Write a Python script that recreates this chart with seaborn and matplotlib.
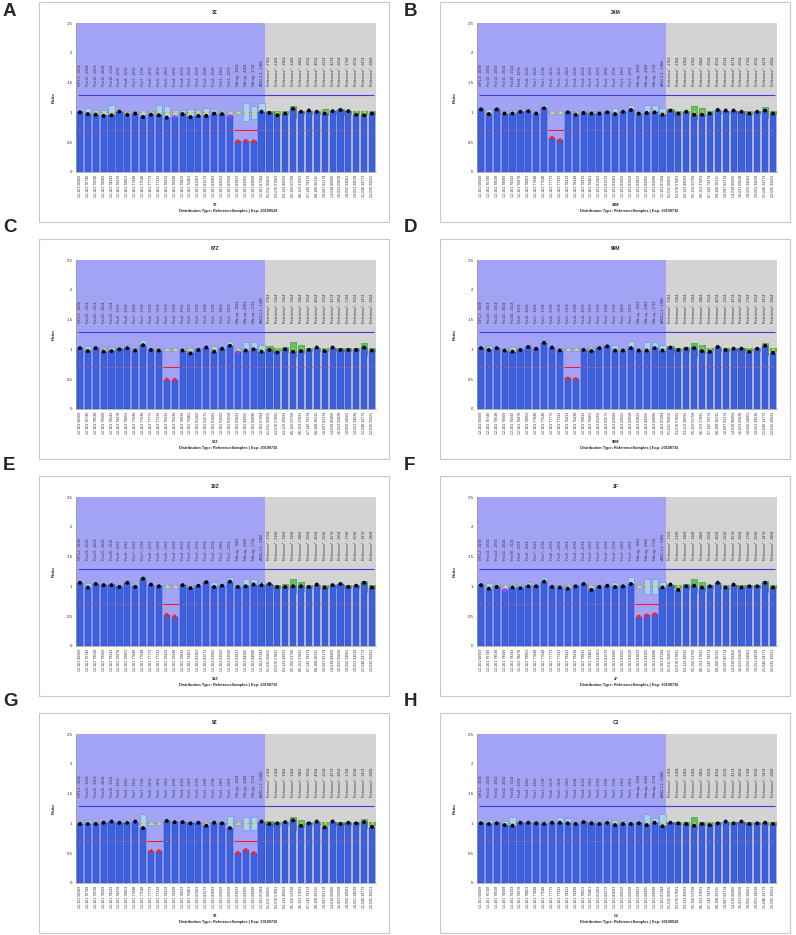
import matplotlib
matplotlib.use('Agg')
import matplotlib.pyplot as plt
from matplotlib.patches import Rectangle
import seaborn as sns
import pandas as pd
import numpy as np

W, H = 796, 935

# probe names printed in the upper part of every panel
top_labels = ["GP1-2 - 3104", "Pax13 - 2824", "Pax12 - 2654", "Pax11 - 2624", "Pax10 - 2114",
              "Pax9 - 1974", "Pax8 - 1914", "Pax7 - 1824", "Pax7 - 1794", "Pax6 - 2274",
              "Pax5 - 2434", "Pax5 - 2364", "Pax4 - 2884", "Pax4 - 4064", "Pax3 - 2964",
              "Pax3 - 2074", "Pax2 - 1894", "Pax2 - 2794", "Pax1 - 1864", "Pax1 - 2254",
              "Nfe-ug - 1564", "Nfe-ug - 4184", "Nfe-ug - 1714", "ABCL1-2 - 1484",
              "Reference* - 2764", "Reference* - 2184", "Reference* - 1964", "Reference* - 1384",
              "Reference* - 3864", "Reference* - 3554", "Reference* - 4054", "Reference* - 2234",
              "Reference* - 4274", "Reference* - 2654", "Reference* - 1784", "Reference* - 3034",
              "Reference* - 3474", "Reference* - 2884"]

# chromosome positions under the x axis
bottom_labels = ["12-161 56569", "12-161 76749", "12-161 78538", "12-161 78569", "12-161 78243",
                 "12-161 78478", "12-161 78853", "12-161 77848", "12-161 77548", "12-161 77773",
                 "12-161 77333", "12-161 78413", "12-161 78438", "12-161 78833", "12-161 79461",
                 "12-161 81263", "12-161 81573", "12-161 83083", "12-161 83502", "12-161 83558",
                 "12-161 83823", "12-161 84355", "12-161 84998", "12-161 87284",
                 "01-011 95815", "03-076 57681", "03-123 49593", "05-150 53758", "06-153 37691",
                 "07-142 79374", "08-108 26311", "10-087 82174", "14-018 89450", "16-023 05628",
                 "18-050 34561", "19-051 34539", "21-046 34773", "22-035 35021"]

n_target = 24  # first 24 probes are target probes, the rest reference probes

# ratio per probe and half height of the reference box (box = 1 +- spread)
ratio_a = [1.00, 0.97, 0.96, 0.94, 0.95, 1.01, 0.96, 0.98, 0.92, 0.96, 0.95, 0.91, 0.92, 0.97, 0.92, 0.94, 0.94, 0.98, 0.97, 0.93, 0.51, 0.52, 0.51, 1.01,
           0.99, 0.95, 0.98, 1.06, 1.01, 1.03, 1.01, 0.98, 1.02, 1.04, 1.02, 0.96, 0.95, 0.98]
spread_a = [0.02, 0.07, 0.04, 0.04, 0.12, 0.03, 0.03, 0.03, 0.04, 0.03, 0.12, 0.11, 0.04, 0.04, 0.06, 0.04, 0.08, 0.06, 0.03, 0.02, 0.02, 0.15, 0.11, 0.15,
            0.02, 0.03, 0.02, 0.10, 0.02, 0.02, 0.02, 0.05, 0.02, 0.05, 0.02, 0.02, 0.03, 0.02]

ratio_b = [1.05, 0.97, 1.05, 0.98, 0.98, 1.01, 1.02, 0.98, 1.07, 0.57, 0.53, 1.00, 0.96, 0.99, 0.98, 0.98, 1.00, 0.97, 1.01, 1.04, 0.98, 0.99, 1.00, 0.96,
           1.03, 0.98, 1.01, 0.96, 0.96, 0.98, 1.04, 1.03, 1.03, 1.01, 0.98, 1.01, 1.03, 0.98]
spread_b = [0.02, 0.06, 0.02, 0.03, 0.04, 0.03, 0.08, 0.03, 0.14, 0.02, 0.02, 0.02, 0.02, 0.02, 0.02, 0.02, 0.02, 0.07, 0.03, 0.13, 0.03, 0.12, 0.12, 0.07,
            0.06, 0.02, 0.03, 0.11, 0.07, 0.02, 0.02, 0.02, 0.02, 0.02, 0.02, 0.02, 0.09, 0.03]

ratio_c = [1.02, 0.97, 1.02, 0.96, 0.97, 1.00, 1.02, 0.98, 1.07, 0.99, 0.98, 0.49, 0.49, 0.98, 0.93, 0.99, 1.03, 0.96, 1.01, 1.06, 0.95, 0.98, 1.00, 0.96,
           0.99, 0.95, 1.00, 0.96, 0.97, 0.99, 1.03, 0.97, 1.03, 0.99, 0.99, 0.99, 1.03, 0.98]
spread_c = [0.02, 0.06, 0.02, 0.03, 0.04, 0.02, 0.08, 0.02, 0.15, 0.02, 0.02, 0.02, 0.02, 0.02, 0.02, 0.02, 0.02, 0.06, 0.02, 0.14, 0.02, 0.13, 0.13, 0.07,
            0.05, 0.02, 0.04, 0.13, 0.07, 0.02, 0.02, 0.03, 0.02, 0.02, 0.02, 0.02, 0.10, 0.02]

ratio_d = [1.02, 0.99, 1.02, 0.98, 0.96, 0.99, 1.04, 1.01, 1.11, 1.03, 0.98, 0.51, 0.50, 0.99, 0.97, 1.02, 1.05, 0.98, 0.98, 1.02, 0.98, 0.98, 1.02, 0.98,
           1.03, 0.99, 1.01, 1.02, 0.97, 0.96, 1.04, 0.99, 1.01, 1.01, 0.96, 1.01, 1.06, 0.94]
spread_d = [0.02, 0.06, 0.02, 0.02, 0.04, 0.02, 0.08, 0.02, 0.15, 0.02, 0.02, 0.02, 0.02, 0.02, 0.02, 0.02, 0.02, 0.07, 0.02, 0.14, 0.02, 0.13, 0.13, 0.07,
            0.06, 0.02, 0.04, 0.11, 0.07, 0.02, 0.02, 0.02, 0.02, 0.02, 0.02, 0.02, 0.10, 0.02]

ratio_e = [1.06, 0.98, 1.04, 1.02, 1.02, 0.99, 1.06, 0.99, 1.13, 1.03, 1.00, 0.52, 0.49, 1.02, 0.97, 1.01, 1.07, 0.99, 1.01, 1.08, 0.99, 1.00, 1.03, 1.02,
           1.04, 0.99, 0.99, 1.00, 1.00, 0.99, 1.03, 0.98, 1.02, 1.04, 0.99, 1.01, 1.06, 0.98]
spread_e = [0.02, 0.06, 0.02, 0.02, 0.04, 0.02, 0.09, 0.02, 0.16, 0.02, 0.02, 0.02, 0.02, 0.02, 0.03, 0.02, 0.02, 0.07, 0.02, 0.15, 0.02, 0.13, 0.13, 0.08,
            0.02, 0.02, 0.04, 0.12, 0.08, 0.02, 0.02, 0.02, 0.02, 0.02, 0.02, 0.02, 0.09, 0.02]

ratio_f = [1.02, 0.96, 0.99, 0.93, 0.98, 0.97, 1.00, 1.00, 1.08, 0.99, 0.98, 0.96, 1.00, 1.04, 0.94, 0.99, 1.01, 0.99, 1.00, 1.04, 0.49, 0.51, 0.53, 0.98,
           1.03, 0.94, 1.00, 1.01, 0.98, 1.00, 1.06, 0.98, 1.03, 0.98, 1.00, 1.00, 1.06, 0.98]
spread_f = [0.02, 0.06, 0.02, 0.02, 0.04, 0.02, 0.08, 0.02, 0.15, 0.02, 0.02, 0.02, 0.02, 0.02, 0.02, 0.02, 0.02, 0.07, 0.02, 0.15, 0.02, 0.13, 0.13, 0.08,
            0.02, 0.02, 0.04, 0.12, 0.08, 0.02, 0.02, 0.02, 0.02, 0.02, 0.02, 0.02, 0.09, 0.02]

ratio_g = [0.99, 0.99, 0.99, 1.01, 1.03, 1.01, 1.01, 1.03, 0.92, 0.53, 0.53, 1.04, 1.02, 1.02, 1.00, 1.01, 0.96, 1.01, 1.00, 0.92, 0.50, 0.55, 0.50, 1.03,
           0.99, 1.00, 1.02, 1.05, 0.96, 1.00, 1.03, 0.93, 1.03, 0.99, 1.01, 1.00, 1.02, 0.94]
spread_g = [0.02, 0.05, 0.02, 0.02, 0.02, 0.02, 0.08, 0.02, 0.15, 0.02, 0.02, 0.02, 0.02, 0.02, 0.02, 0.02, 0.03, 0.04, 0.02, 0.13, 0.02, 0.11, 0.11, 0.02,
            0.04, 0.02, 0.02, 0.11, 0.06, 0.02, 0.02, 0.02, 0.02, 0.02, 0.02, 0.02, 0.08, 0.02]

ratio_h = [1.00, 0.99, 1.00, 0.97, 0.96, 1.01, 1.01, 1.00, 0.99, 1.01, 1.01, 1.00, 0.99, 1.02, 1.00, 0.99, 1.01, 0.97, 0.99, 0.99, 1.00, 0.97, 1.01, 0.95,
           1.01, 1.00, 0.99, 0.96, 0.99, 0.97, 1.00, 1.03, 1.00, 1.03, 0.99, 1.00, 1.01, 0.99]
spread_h = [0.02, 0.06, 0.02, 0.04, 0.11, 0.02, 0.02, 0.04, 0.04, 0.02, 0.11, 0.09, 0.02, 0.04, 0.04, 0.02, 0.08, 0.06, 0.04, 0.02, 0.02, 0.15, 0.09, 0.15,
            0.02, 0.02, 0.02, 0.10, 0.02, 0.02, 0.02, 0.02, 0.02, 0.02, 0.02, 0.02, 0.02, 0.02]

# probes flagged with a violet dot, and stretches where the 0.7 line is solid
violet_dots = {"A": [12, 19], "C": [20], "F": [3]}
red_segments = {"A": [(19.5, 22.5)], "B": [(8.5, 10.5)], "C": [(10.5, 12.5)], "D": [(10.5, 12.5)],
                "E": [(10.5, 12.5)], "F": [(19.5, 22.5)], "G": [(8.5, 10.5), (19.5, 22.5)], "H": []}

panel_letters = ["A", "B", "C", "D", "E", "F", "G", "H"]
sample_names = ["3Z", "24M", "67Z", "99M", "10Z", "2F", "9Z", "C2"]
exp_dates = ["20190528", "20190716", "20190716", "20190716", "20190716", "20190716", "20190716", "20190528"]
all_ratios = [ratio_a, ratio_b, ratio_c, ratio_d, ratio_e, ratio_f, ratio_g, ratio_h]
all_spreads = [spread_a, spread_b, spread_c, spread_d, spread_e, spread_f, spread_g, spread_h]

sns.set_style('white')
plt.rcParams['font.family'] = ['Liberation Sans', 'DejaVu Sans']

fig = plt.figure(figsize=(W / 100, H / 100), dpi=100)


def px_axes(left, top, w, h):
    return fig.add_axes([left / W, 1 - (top + h) / H, w / W, h / H])


letter_y = [12, 228, 465, 702]  # vertical centre of the panel letters per row, pixels

for k, letter in enumerate(panel_letters):
    col, row = k % 2, k // 2
    x0 = 39 + 401 * col
    y0 = 2 + 237 * row
    ratios = np.array(all_ratios[k])
    spreads = np.array(all_spreads[k])
    n = len(ratios)
    x = np.arange(n)

    # panel frame and letter
    fig.add_artist(Rectangle((x0 / W, 1 - (y0 + 220) / H), 350 / W, 220 / H,
                             transform=fig.transFigure, fill=False,
                             edgecolor='#c8c8c8', linewidth=0.8))
    fig.text((x0 - 36) / W, 1 - letter_y[row] / H, letter, fontsize=13.5,
             fontweight='bold', ha='left', va='center')
    fig.text((x0 + 176) / W, 1 - (y0 + 10) / H, sample_names[k], fontsize=3.6,
             fontweight='bold', ha='center', va='center')
    fig.text((x0 + 176) / W, 1 - (y0 + 203) / H, sample_names[k], fontsize=2.8,
             fontweight='bold', ha='center', va='center')
    fig.text((x0 + 189) / W, 1 - (y0 + 209) / H,
             f"Distribution Type: ReferenceSamples | Exp: {exp_dates[k]}",
             fontsize=2.8, fontweight='bold', ha='center', va='center')

    ax = px_axes(x0 + 37, y0 + 21.3, 300, 148.4)

    # background regions: target probes blue, reference probes grey
    ax.axvspan(-0.5, n_target - 0.5, color='#a3a3f6', zorder=0, lw=0)
    ax.axvspan(n_target - 0.5, n - 0.5, color='#d3d3d3', zorder=0, lw=0)

    # reference boxes behind the bars
    box_fill = ['#a8d3f5' if i < n_target else '#5cc55c' for i in x]
    box_edge = ['#7090c0' if i < n_target else '#3b8f3b' for i in x]
    ax.bar(x, 2 * spreads, bottom=1 - spreads, width=0.78, color=box_fill,
           edgecolor=box_edge, linewidth=0.4, zorder=2)
    ax.hlines(np.ones(n), x - 0.39, x + 0.39, colors='#7a7a50', linewidth=0.4,
              linestyles=(0, (2, 1.5)), zorder=2.2)
    ax.scatter(x, np.ones(n), s=3, color='#f2e200', linewidths=0, zorder=2.4)

    df = pd.DataFrame({'probe': bottom_labels, 'ratio': ratios})
    sns.barplot(data=df, x='probe', y='ratio', order=bottom_labels, color='#3d61dc',
                saturation=1, width=0.78, edgecolor='#2c4cc0', linewidth=0.3,
                errorbar=None, ax=ax, zorder=3)

    # threshold lines
    ax.hlines(1.3, -0.2, n - 0.8, colors='#3c3ce0', linewidth=0.8, zorder=4)
    ax.hlines(0.7, -0.2, n - 0.8, colors='#e86060', linewidth=0.5,
              linestyles=(0, (3, 3)), zorder=4)
    for a, b in red_segments[letter]:
        ax.hlines(0.7, a, b, colors='#ff1a1a', linewidth=0.8, zorder=4.5)

    # sample dots
    kinds = []
    for i, r in enumerate(ratios):
        if r < 0.7:
            kinds.append('loss')
        elif i in violet_dots.get(letter, []):
            kinds.append('flag')
        else:
            kinds.append('normal')
    sns.scatterplot(x=x, y=ratios, hue=kinds,
                    palette={'normal': 'black', 'loss': '#ff2020', 'flag': '#a040ff'},
                    s=8, linewidth=0, legend=False, ax=ax, zorder=5)

    for i, lab in enumerate(top_labels):
        ax.text(i, 1.45, lab, rotation=90, ha='center', va='bottom',
                fontsize=2.6, color='#333333', zorder=4)

    ax.set_xlim(-0.5, n - 0.5)
    ax.set_ylim(0, 2.5)
    ax.set_yticks([0, 0.5, 1, 1.5, 2, 2.5])
    ax.set_yticklabels(['0', '0.5', '1', '1.5', '2', '2.5'], fontsize=3.2)
    ax.set_xticks(x)
    ax.set_xticklabels(bottom_labels, rotation=90, fontsize=2.6)
    ax.tick_params(length=1.5, width=0.4, pad=1, colors='#333333')
    for side in ['top', 'right']:
        ax.spines[side].set_visible(False)
    for side in ['left', 'bottom']:
        ax.spines[side].set_color('#999999')
        ax.spines[side].set_linewidth(0.5)
    ax.set_xlabel('')
    ax.set_ylabel('Ratio', fontsize=3.2, fontweight='bold')
    ax.yaxis.set_label_coords(-0.067, 0.5)

plt.savefig('out.png', dpi=100)
plt.close()
